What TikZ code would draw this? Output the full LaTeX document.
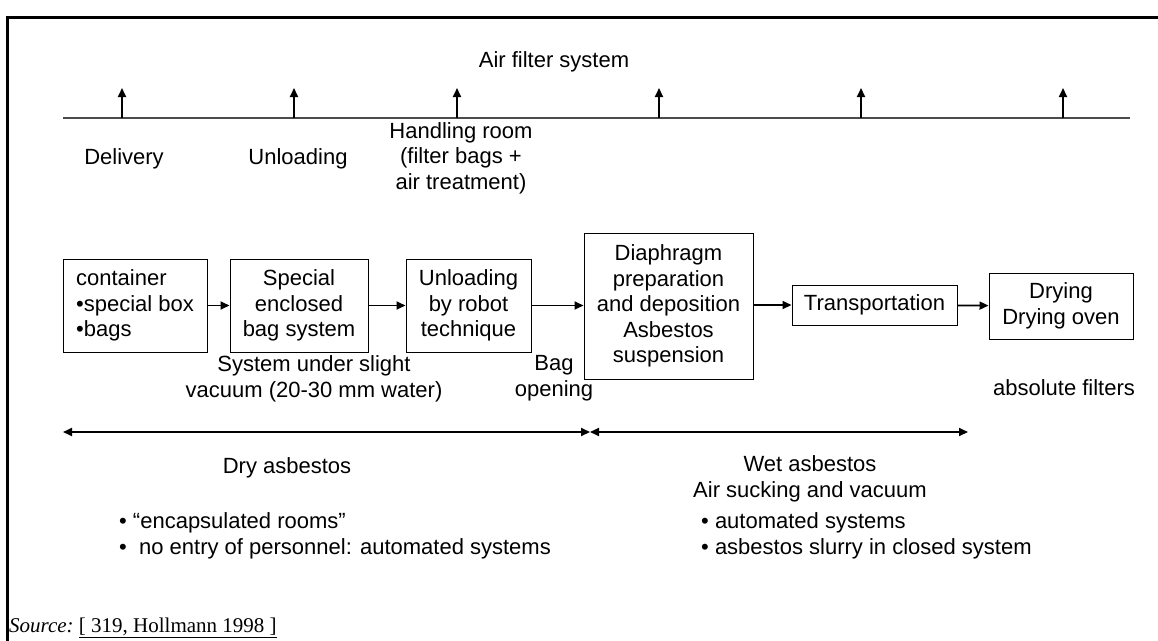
\documentclass[tikz,border=0pt]{standalone}
\usepackage{fontspec}
\setmainfont{Liberation Sans}
\newfontfamily\timesfont{Liberation Serif}
\usetikzlibrary{arrows.meta}
\begin{document}
\begin{tikzpicture}[x=1pt,y=-1pt,
  font=\fontsize{22}{25.5}\selectfont,
  box/.style={draw, line width=1pt, align=center, inner sep=0pt},
  flow/.style={-{Triangle[length=9pt,width=8pt]}, line width=1.8pt},
  span/.style={{Triangle[length=9pt,width=8pt]}-{Triangle[length=9pt,width=8pt]}, line width=1.8pt},
  lbl/.style={align=center, inner sep=0pt}]
\useasboundingbox (0,0) rectangle (1158,640);
% frame
\coordinate (fbl) at (7.5,641);
\coordinate (ftl) at (7.5,17.5);
\coordinate (ftr) at (1159,17.5);
\draw[line width=2.6pt] (fbl) -- (ftl) -- (ftr);
% air filter line
\node[lbl] (air) at (554,62) {Air filter system};
\coordinate (la) at (63,118);
\coordinate (lb) at (1130,118);
\draw[line width=1.2pt, black!70] (la) -- (lb);
\foreach \i/\x in {1/122,2/294,3/457,4/659,5/861,6/1063}{
  \coordinate (af\i) at (\x,118);
  \coordinate (at\i) at (\x,88);
  \draw[flow] (af\i) -- (at\i);
}
% stage labels
\node[lbl] (del) at (124,159) {Delivery};
\node[lbl] (unl) at (298,159) {Unloading};
\node[lbl] (hand) at (461,158) {Handling room\\(filter bags +\\air treatment)};
% boxes
\node[box, minimum width=144pt, minimum height=93pt, align=left] (b1) at (135,305.5) {container\\•special box\\•bags};
\node[box, minimum width=138pt, minimum height=93pt] (b2) at (299,305.5) {Special\\enclosed\\bag system};
\node[box, minimum width=125pt, minimum height=93pt] (b3) at (468.5,305.5) {Unloading\\by robot\\technique};
\node[box, minimum width=169pt, minimum height=146pt] (b4) at (668.5,306) {Diaphragm\\preparation\\and deposition\\Asbestos\\suspension};
\node[box, minimum width=165pt, minimum height=40pt] (b5) at (874.5,305) {Transportation};
\node[box, minimum width=144pt, minimum height=66pt] (b6) at (1061,306) {Drying\\Drying oven};
\draw[flow] (b1) -- (b2);
\draw[flow] (b2) -- (b3);
\draw[flow] (b3.east) -- (b3.east -| b4.west);
\draw[flow] (b4.east |- b5.west) -- (b5.west);
\draw[flow] (b5) -- (b6);
% under boxes
\node[lbl] (bag) at (554,378) {Bag\\opening};
\node[lbl] (vac) at (314,379) {System under slight\\vacuum (20-30 mm water)};
\node[lbl] (abs) at (1064,388) {absolute filters};
% spans
\coordinate (d1) at (63,432);
\coordinate (d2) at (590,432);
\coordinate (d3) at (968,432);
\draw[span] (d1) -- (d2);
\draw[span] (d2) -- (d3);
\node[lbl] (dry) at (287,468) {Dry asbestos};
\node[lbl] (wet) at (810,479) {Wet asbestos\\Air sucking and vacuum};
\node[lbl, align=left, anchor=west] (lb1) at (119,536) {• “encapsulated rooms”\\•\ \ no entry of personnel: automated systems};
\node[lbl, align=left, anchor=west] (rb1) at (701,536) {• automated systems\\• asbestos slurry in closed system};
\node[lbl, anchor=west] (src) at (9,628) {\timesfont\fontsize{21}{24}\selectfont\itshape Source:\upshape\ \underline{[ 319, Hollmann 1998 ]}};
\end{tikzpicture}
\end{document}
